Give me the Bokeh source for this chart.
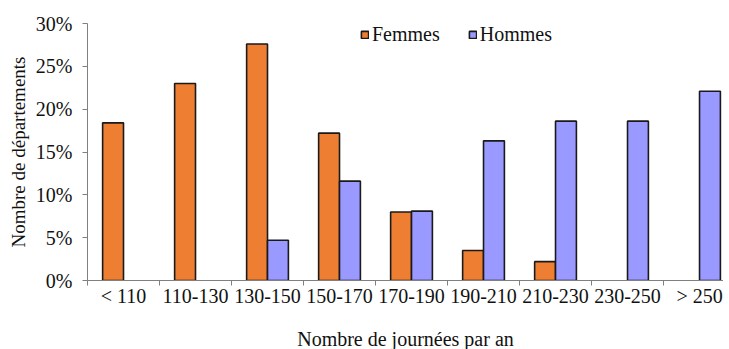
from bokeh.plotting import figure
from bokeh.models import (Range1d, FixedTicker, PrintfTickFormatter, ColumnDataSource,
                          Legend, LegendItem)
from bokeh.embed import file_html
from bokeh.resources import INLINE

categories = ["< 110", "110-130", "130-150", "150-170", "170-190",
              "190-210", "210-230", "230-250", "> 250"]
femmes = [18.4, 23.0, 27.6, 17.2, 8.0, 3.5, 2.2, None, None]
hommes = [None, None, 4.7, 11.6, 8.1, 16.3, 18.6, 18.6, 22.1]
y_ticks = [0, 5, 10, 15, 20, 25, 30]

FONT = "Liberation Serif"
ORANGE = "#EE7F32"
BLUE = "#9999FF"
BAR_W = 0.29
TXT = "#111111"

def nan(v):
    return float("nan") if v is None else v

idx = list(range(len(categories)))
src_f = ColumnDataSource(dict(x=[i + 0.5 - BAR_W / 2 for i in idx], top=[nan(v) for v in femmes]))
src_h = ColumnDataSource(dict(x=[i + 0.5 + BAR_W / 2 for i in idx], top=[nan(v) for v in hommes]))

p = figure(frame_width=636, frame_height=257, output_backend="svg", toolbar_location=None,
           x_range=Range1d(0, 8.833), y_range=Range1d(0, 30),
           min_border_left=87, min_border_top=23, min_border_right=0, min_border_bottom=40)
p.outline_line_color = None
p.grid.visible = False
p.background_fill_color = "white"
p.border_fill_color = "white"

rf = p.vbar(x="x", top="top", width=BAR_W, bottom=0, source=src_f,
            fill_color=ORANGE, line_color="#1a1a1a", line_width=1.6)
rh = p.vbar(x="x", top="top", width=BAR_W, bottom=0, source=src_h,
            fill_color=BLUE, line_color="#1a1a1a", line_width=1.6)

# x axis: labels at category centres, tick marks at category boundaries
xa = p.xaxis[0]
xa.ticker = FixedTicker(ticks=[i + 0.5 for i in idx], minor_ticks=list(range(len(categories) + 1)))
xa.major_label_overrides = {i + 0.5: c for i, c in zip(idx, categories)}
xa.major_tick_out = 0
xa.major_tick_in = 0
xa.minor_tick_out = 5
xa.minor_tick_in = 0
xa.minor_tick_line_color = "#808080"
xa.axis_line_color = "#808080"
xa.major_label_standoff = -1
xa.major_label_text_font = FONT
xa.major_label_text_font_size = "20px"
xa.major_label_text_color = TXT
xa.axis_label = "Nombre de journées par an"
xa.axis_label_text_font = FONT
xa.axis_label_text_font_size = "20px"
xa.axis_label_text_font_style = "normal"
xa.axis_label_text_color = TXT
xa.axis_label_standoff = 18

ya = p.yaxis[0]
ya.ticker = FixedTicker(ticks=y_ticks, minor_ticks=[])
ya.formatter = PrintfTickFormatter(format="%d%%")
ya.major_tick_out = 5
ya.major_tick_in = 0
ya.major_tick_line_color = "#808080"
ya.axis_line_color = "#808080"
ya.major_label_standoff = 10
ya.major_label_text_font = FONT
ya.major_label_text_font_size = "20px"
ya.major_label_text_color = TXT
ya.axis_label = "Nombre de départements"
ya.axis_label_text_font = FONT
ya.axis_label_text_font_size = "19px"
ya.axis_label_text_font_style = "normal"
ya.axis_label_text_color = TXT
ya.axis_label_standoff = 4

legend = Legend(items=[LegendItem(label="Femmes", renderers=[rf]),
                       LegendItem(label="Hommes", renderers=[rh])],
                orientation="horizontal", location=(273, 234),
                glyph_width=9, glyph_height=9, label_standoff=3, spacing=28,
                padding=0, margin=0, border_line_color=None,
                background_fill_alpha=0,
                label_text_font=FONT, label_text_font_size="20px",
                label_text_color=TXT)
p.add_layout(legend)

open("out.html", "w").write(file_html(p, INLINE))
